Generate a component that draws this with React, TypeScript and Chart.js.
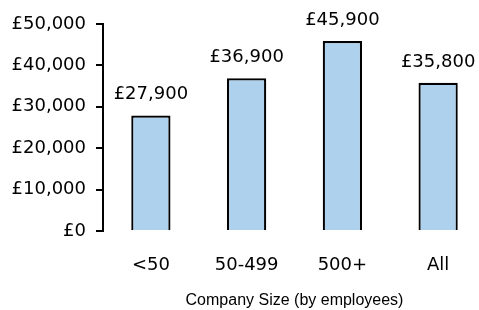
import React, { useEffect, useRef } from "react";
import { Chart, registerables } from "chart.js";

Chart.register(...registerables);

const categories = ["<50", "50-499", "500+", "All"];
const salaries = [27900, 36900, 45900, 35800];
const yTicks = [0, 10000, 20000, 30000, 40000, 50000];
const xTitle = "Company Size (by employees)";

const fmt = (v: number) => "£" + v.toLocaleString("en-GB");

const W = 490;
const H = 310;
const TICK_FONT = { family: "'DejaVu Sans'", size: 18 };

export default function App() {
  const ref = useRef<HTMLCanvasElement>(null);
  useEffect(() => {
    const labelPlugin = {
      id: "barLabels",
      afterDatasetsDraw(chart: any) {
        const ctx = chart.ctx;
        const meta = chart.getDatasetMeta(0);
        ctx.save();
        ctx.font = "18px 'DejaVu Sans'";
        ctx.fillStyle = "#000";
        ctx.textAlign = "center";
        ctx.textBaseline = "alphabetic";
        meta.data.forEach((el: any, i: number) => {
          ctx.fillText(fmt(salaries[i]), el.x, el.y - 16);
        });
        ctx.restore();
      },
    };
    const chart = new Chart(ref.current!, {
      type: "bar",
      data: {
        labels: categories,
        datasets: [
          {
            data: salaries,
            backgroundColor: "rgb(174,209,238)",
            borderColor: "#000",
            borderWidth: 2.2,
            barPercentage: 0.41,
            categoryPercentage: 1,
          },
        ],
      },
      options: {
        animation: false,
        responsive: false,
        layout: { padding: { top: 24, right: 4, bottom: 0, left: 0 } },
        plugins: { legend: { display: false }, tooltip: { enabled: false } },
        scales: {
          x: {
            grid: { display: false, drawTicks: false },
            border: { display: false },
            ticks: { color: "#000", font: TICK_FONT, padding: 24, maxRotation: 0 },
            title: {
              display: true,
              text: xTitle,
              color: "#000",
              font: { family: "'Liberation Sans'", size: 16 },
              padding: { top: 0, bottom: 0 },
            },
            afterFit: (s: any) => {
              s.height = H - 231;
            },
          },
          y: {
            min: 0,
            max: 50000,
            afterBuildTicks: (s: any) => {
              s.ticks = yTicks.map((v) => ({ value: v }));
            },
            grid: { drawOnChartArea: false, drawTicks: true, tickLength: 7, color: "#000", lineWidth: 2 },
            border: { display: true, color: "#000", width: 2 },
            ticks: { color: "#000", font: TICK_FONT, padding: 10, callback: (v: any) => fmt(Number(v)) },
            afterFit: (s: any) => {
              s.width = 103;
            },
          },
        },
      },
      plugins: [labelPlugin],
    } as any);
    return () => chart.destroy();
  }, []);
  return (
    <div style={{ position: "fixed", left: 0, top: 0, width: 479, height: 310, overflow: "hidden", background: "#fff" }}>
      <canvas ref={ref} width={W} height={H} style={{ display: "block", width: W, height: H }} />
    </div>
  );
}
